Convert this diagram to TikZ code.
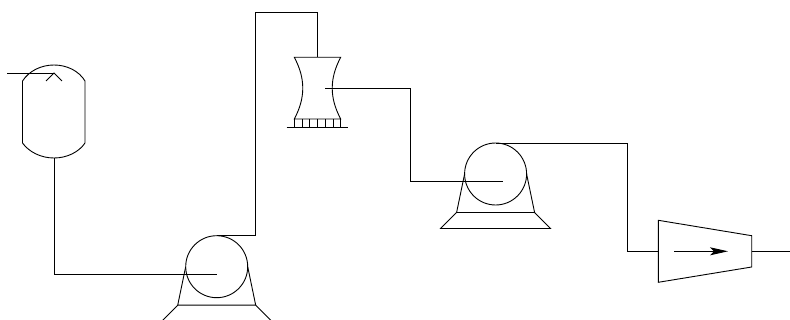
\documentclass[tikz,border=0pt]{standalone}
\usetikzlibrary{arrows.meta}

\tikzset{
  wheel/.style={draw,circle,minimum size=62pt,inner sep=0pt,outer sep=0pt},
  pipe/.style={line join=miter},
  pumpunit/.pic={
    \node[wheel] (-body) at (0,0) {};
    \draw (-31,0) -- (-39,38.5) -- (39,38.5) -- (31,0);
    \draw (-39,38.5) -- (-55,54.5) -- (55,54.5) -- (39,38.5);
  }
}

\begin{document}
\begin{tikzpicture}[x=1pt,y=-1pt,line width=0.9pt,>=Stealth]
\useasboundingbox (0,0) rectangle (790,320);
% vessel
\coordinate (vesselin) at (7,73);
\coordinate (vesselhook) at (54,73);
\coordinate (vesselout) at (54,158);
\draw (22.5,81) .. controls (29,71) and (41,65) .. (54,65) .. controls (67,65) and (79,71) .. (85,81)
  -- (85,143) .. controls (79,152) and (67,158) .. (vesselout) .. controls (41,158) and (29,152) .. (22.5,143) -- cycle;
\draw (46,81) -- (vesselhook) -- (62,81);
% pumps
\pic (pumpa) at (216.7,266.7) {pumpunit};
\pic (pumpb) at (495.6,174) {pumpunit};
\coordinate (pumpafeed) at (216.7,274.8);
\coordinate (pumpbfeed) at (503,181.7);
% tower
\coordinate (towertop) at (317,57.3);
\coordinate (towerfeed) at (325.3,88.5);
\draw (294.3,57.3) -- (340.7,57.3) to[bend right=28] (340.7,119) -- (294.3,119) to[bend right=28] cycle;
\foreach \x in {1,...,5}
  \draw ({294.3+7.73*\x},119) -- ({294.3+7.73*\x},127.3);
\draw (294.3,119) -- (294.3,127.3);
\draw (340.7,119) -- (340.7,127.3);
\draw (286.7,127.3) -- (348.3,127.3);
% compressor
\coordinate (compin) at (658.3,251.3);
\coordinate (compout) at (751.7,251.3);
\coordinate (compstart) at (674,251.3);
\coordinate (comptip) at (728,251.3);
\coordinate (pipeend) at (790,251.3);
\draw (658.3,220.3) -- (751.7,235.7) -- (751.7,267) -- (658.3,282.3) -- cycle;
\draw[-{Stealth[length=18pt,width=8pt,inset=4pt]}] (compstart) -- (comptip);
% pipes
\draw[pipe] (vesselin) -- (vesselhook);
\draw[pipe] (vesselout) |- (pumpafeed);
\draw[pipe] (pumpa-body.north) -- (255.5,235.7) -- (255.5,12) -- (317,12) -- (towertop);
\draw[pipe] (towerfeed) -| (410.5,181.7) -- (pumpbfeed);
\draw[pipe] (pumpb-body.north) -- (627,143) -- (627,251.3) -- (compin);
\draw[pipe] (compout) -- (pipeend);
\end{tikzpicture}
\end{document}
